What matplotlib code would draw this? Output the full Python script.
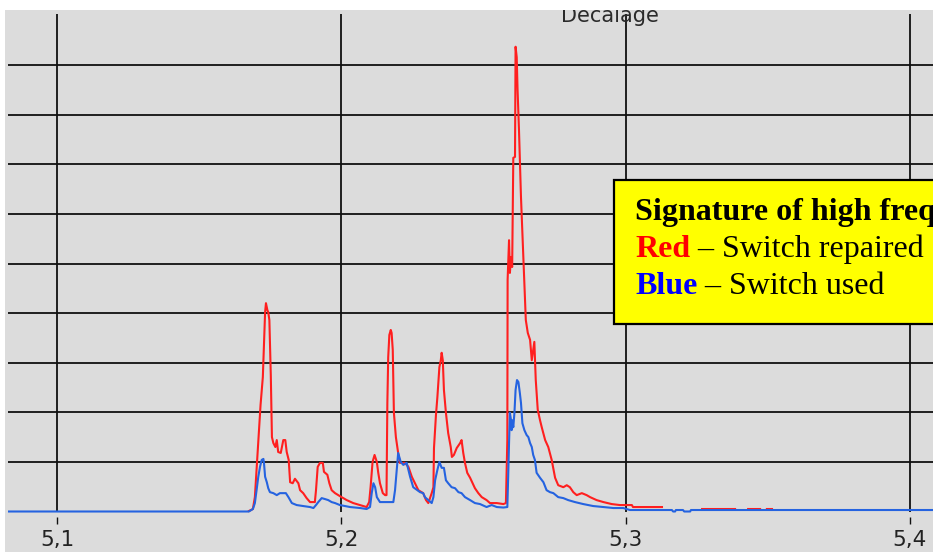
import matplotlib
matplotlib.use("Agg")
import matplotlib.pyplot as plt
import numpy as np
from matplotlib.patches import Rectangle

# ---------------- data ----------------
x_ticks = [5.1, 5.2, 5.3, 5.4]
x_labels = ["5,1", "5,2", "5,3", "5,4"]
y_grid = [1, 2, 3, 4, 5, 6, 7, 8, 9]

red_x = [5.1675, 5.1689, 5.1696, 5.1708, 5.1716, 5.1724, 5.1732, 5.1735, 5.1740, 5.1743,
         5.1747, 5.1752, 5.1756, 5.1761, 5.1768, 5.1773, 5.1778, 5.1787, 5.1796, 5.1803,
         5.1808, 5.1815, 5.1820, 5.1829, 5.1837, 5.1849, 5.1855, 5.1866, 5.1878, 5.1890,
         5.1907, 5.1911, 5.1917, 5.1925, 5.1935, 5.1939, 5.1951, 5.1958, 5.1966, 5.1978,
         5.1995, 5.2019, 5.2042, 5.2066, 5.2089, 5.2098, 5.2103, 5.2110, 5.2117, 5.2125,
         5.2130, 5.2136, 5.2146, 5.2154, 5.2159, 5.2162, 5.2165, 5.2169, 5.2174, 5.2177,
         5.2181, 5.2185, 5.2192, 5.2200, 5.2206, 5.2224, 5.2236, 5.2248, 5.2259, 5.2271,
         5.2288, 5.2298, 5.2306, 5.2312, 5.2318, 5.2324, 5.2326, 5.2333, 5.2338, 5.2345,
         5.2350, 5.2353, 5.2357, 5.2361, 5.2368, 5.2376, 5.2385, 5.2389, 5.2396, 5.2406,
         5.2418, 5.2423, 5.2429, 5.2435, 5.2443, 5.2453, 5.2462, 5.2470, 5.2482, 5.2494,
         5.2511, 5.2523, 5.2547, 5.2570, 5.2579, 5.2584, 5.2585, 5.2590, 5.2593, 5.2597,
         5.2601, 5.2605, 5.2611, 5.2613, 5.2617, 5.2620, 5.2625, 5.2632, 5.2640, 5.2649,
         5.2656, 5.2664, 5.2670, 5.2679, 5.2684, 5.2691, 5.2699, 5.2705, 5.2717, 5.2728,
         5.2740, 5.2752, 5.2763, 5.2781, 5.2793, 5.2804, 5.2816, 5.2828, 5.2846, 5.2863,
         5.2875, 5.2898, 5.2922, 5.2951, 5.2980, 5.3022, 5.3026, 5.3128, 5.3200, 5.3269,
         5.3385, 5.3410, 5.3431, 5.3473, 5.3485, 5.3497, 5.3515]
red_y = [0.01, 0.05, 0.29, 1.40, 2.15, 2.71, 4.02, 4.20, 4.06, 4.02,
         3.86, 2.75, 1.50, 1.38, 1.30, 1.44, 1.20, 1.18, 1.44, 1.44,
         1.20, 1.04, 0.59, 0.57, 0.66, 0.57, 0.43, 0.37, 0.27, 0.19,
         0.19, 0.43, 0.90, 0.98, 0.98, 0.80, 0.74, 0.57, 0.43, 0.37,
         0.31, 0.23, 0.17, 0.13, 0.09, 0.19, 0.49, 1.00, 1.14, 1.00,
         0.78, 0.57, 0.37, 0.33, 0.33, 2.19, 3.11, 3.56, 3.66, 3.60,
         3.26, 1.99, 1.50, 1.18, 0.98, 0.98, 0.90, 0.70, 0.57, 0.43,
         0.37, 0.23, 0.17, 0.27, 0.37, 0.49, 1.28, 1.95, 2.31, 2.91,
         3.05, 3.20, 3.05, 2.45, 1.99, 1.58, 1.30, 1.10, 1.14, 1.28,
         1.38, 1.44, 1.18, 0.98, 0.78, 0.68, 0.57, 0.47, 0.37, 0.29,
         0.23, 0.17, 0.17, 0.15, 0.17, 1.44, 4.67, 5.47, 4.81, 5.13,
         4.93, 7.13, 7.15, 9.37, 9.16, 8.50, 7.69, 6.34, 5.17, 3.86,
         3.60, 3.46, 3.05, 3.42, 2.65, 2.05, 1.84, 1.70, 1.44, 1.30,
         1.04, 0.68, 0.53, 0.49, 0.53, 0.49, 0.39, 0.33, 0.37, 0.33,
         0.29, 0.23, 0.19, 0.15, 0.13, 0.13, 0.09, 0.09, np.nan, 0.05,
         0.05, np.nan, 0.05, 0.05, np.nan, 0.05, 0.05]

blue_x = [5.0800, 5.1675, 5.1689, 5.1696, 5.1702, 5.1708, 5.1714, 5.1720, 5.1726, 5.1728,
          5.1732, 5.1738, 5.1743, 5.1749, 5.1761, 5.1773, 5.1784, 5.1796, 5.1805, 5.1814,
          5.1826, 5.1843, 5.1866, 5.1890, 5.1902, 5.1911, 5.1919, 5.1931, 5.1943, 5.1954,
          5.1966, 5.1978, 5.1995, 5.2031, 5.2066, 5.2089, 5.2101, 5.2107, 5.2113, 5.2119,
          5.2125, 5.2136, 5.2160, 5.2183, 5.2189, 5.2200, 5.2209, 5.2218, 5.2230, 5.2242,
          5.2253, 5.2277, 5.2288, 5.2294, 5.2306, 5.2318, 5.2324, 5.2330, 5.2338, 5.2345,
          5.2353, 5.2361, 5.2368, 5.2376, 5.2388, 5.2400, 5.2412, 5.2423, 5.2435, 5.2453,
          5.2470, 5.2488, 5.2511, 5.2529, 5.2547, 5.2570, 5.2584, 5.2587, 5.2590, 5.2593,
          5.2597, 5.2599, 5.2601, 5.2605, 5.2609, 5.2613, 5.2618, 5.2623, 5.2628, 5.2632,
          5.2637, 5.2644, 5.2652, 5.2658, 5.2664, 5.2670, 5.2675, 5.2681, 5.2687, 5.2699,
          5.2711, 5.2722, 5.2734, 5.2746, 5.2763, 5.2781, 5.2798, 5.2822, 5.2851, 5.2886,
          5.2922, 5.2957, 5.2992, 5.3015, 5.3163, 5.3167, 5.3174, 5.3177, 5.3202, 5.3206,
          5.3227, 5.3230, 5.4100]
blue_y = [0.00, 0.00, 0.05, 0.17, 0.43, 0.70, 0.90, 1.04, 1.06, 0.98,
          0.70, 0.59, 0.47, 0.39, 0.37, 0.33, 0.37, 0.37, 0.37, 0.29,
          0.17, 0.13, 0.11, 0.09, 0.07, 0.13, 0.19, 0.27, 0.25, 0.23,
          0.19, 0.17, 0.13, 0.09, 0.07, 0.05, 0.09, 0.37, 0.57, 0.49,
          0.29, 0.19, 0.19, 0.19, 0.43, 1.18, 1.00, 0.94, 0.98, 0.70,
          0.49, 0.39, 0.37, 0.29, 0.23, 0.17, 0.29, 0.63, 0.84, 1.00,
          0.88, 0.88, 0.63, 0.57, 0.49, 0.47, 0.39, 0.37, 0.29, 0.23,
          0.17, 0.15, 0.09, 0.13, 0.09, 0.08, 0.09, 0.70, 1.38, 1.99,
          1.84, 1.64, 1.84, 1.70, 1.99, 2.45, 2.65, 2.61, 2.39, 2.19,
          1.78, 1.64, 1.54, 1.50, 1.38, 1.30, 1.14, 1.04, 0.78, 0.68,
          0.59, 0.43, 0.39, 0.37, 0.29, 0.27, 0.23, 0.19, 0.15, 0.11,
          0.09, 0.07, 0.07, 0.03, 0.03, 0.00, 0.00, 0.03, 0.03, 0.00,
          0.00, 0.03, 0.03]

title_text = "Decalage"
box_title = "Signature of high frequency"
legend_rows = [("Red", " \u2013 Switch repaired", "#ff0000"),
               ("Blue", " \u2013 Switch used", "#0000ff")]

# ---------------- layout helpers ----------------
W, H = 933, 552
fig = plt.figure(figsize=(W / 100, H / 100), dpi=100, facecolor="#dcdcdc")


def fx(px):
    return px / W


def fy(py):
    return 1 - py / H


ax = fig.add_axes([fx(8), fy(524), fx(933) - fx(8), fy(14) - fy(524)])
ax.set_facecolor("none")
ax.set_xlim(5.1 - 49 / 2843, 5.1 + 876 / 2843)
ax.set_ylim(-(524 - 511.5) / 49.6, (511.5 - 14) / 49.6)
for s in ax.spines.values():
    s.set_visible(False)

ax.set_axisbelow(True)
ax.set_yticks(y_grid)
ax.grid(axis="y", color="#111111", linewidth=1.3)
ax.tick_params(axis="y", length=0, labelleft=False)

ax.set_xticks(x_ticks)
ax.set_xticklabels(x_labels, fontsize=15.5, color="#222222", family="DejaVu Sans")
ax.tick_params(axis="x", direction="in", length=5, width=1.0, color="#111111", pad=4.5)
ax.vlines(x_ticks, (524 - 512) / 510, 1, transform=ax.get_xaxis_transform(),
          color="#111111", linewidth=1.3, zorder=1)

ax.plot(red_x, red_y, color="#ff1f1f", linewidth=1.5, zorder=3)
ax.plot(blue_x, blue_y, color="#2563e0", linewidth=1.5, zorder=4)

# title (partly hidden by the white strip at the top)
fig.text(fx(610), fy(22), title_text, ha="center", va="baseline",
         fontsize=15, color="#2a2a2a", family="DejaVu Sans", zorder=5)

# white strips around the panel
fig.patches.append(Rectangle((0, fy(10)), 1, 1 - fy(10), transform=fig.transFigure,
                             facecolor="white", edgecolor="none", zorder=20))
fig.patches.append(Rectangle((0, 0), fx(5), 1, transform=fig.transFigure,
                             facecolor="white", edgecolor="none", zorder=20))

# yellow annotation box
fig.patches.append(Rectangle((fx(614), fy(324)), 0.5, fy(180) - fy(324),
                             transform=fig.transFigure, facecolor="#ffff00",
                             edgecolor="black", linewidth=1.6, zorder=30))
serif = ["Liberation Serif", "DejaVu Serif"]
fs_box = 23
t0 = fig.text(fx(635), fy(220.5), box_title, ha="left", va="baseline", fontsize=fs_box,
              fontweight="bold", family=serif, color="black", zorder=31)
t0.set_clip_box(fig.bbox)
t0.set_clip_on(True)

fig.canvas.draw()
renderer = fig.canvas.get_renderer()
baselines = [257, 294]
for (word, rest, col), bl in zip(legend_rows, baselines):
    tw = fig.text(fx(635), fy(bl), word, ha="left", va="baseline", fontsize=fs_box,
                  fontweight="bold", family=serif, color=col, zorder=31)
    bb = tw.get_window_extent(renderer=renderer)
    fig.text(bb.x1 / W, fy(bl), rest, ha="left", va="baseline", fontsize=fs_box,
             family=serif, color="black", zorder=31)

fig.savefig("out.png", dpi=100, facecolor=fig.get_facecolor())
